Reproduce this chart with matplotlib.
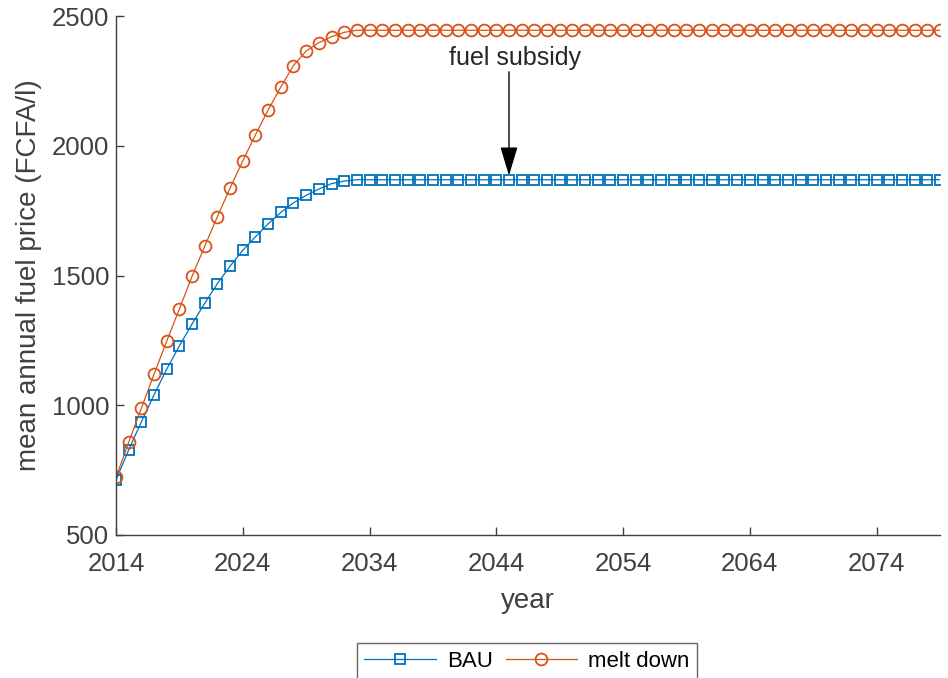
import matplotlib
matplotlib.use("Agg")
import matplotlib.pyplot as plt

plt.rcParams['font.family'] = ['Liberation Sans', 'DejaVu Sans']

years = list(range(2014, 2080))
bau = [712, 828, 936, 1040, 1139, 1229, 1313, 1393, 1469, 1536,
       1597, 1649, 1699, 1743, 1780, 1809, 1833, 1854, 1864,
       1869, 1869, 1869, 1869, 1869, 1869, 1869, 1869, 1869, 1869,
       1869, 1869, 1869, 1869, 1869, 1869, 1869, 1869, 1869, 1869,
       1869, 1869, 1869, 1869, 1869, 1869, 1869, 1869, 1869, 1869,
       1869, 1869, 1869, 1869, 1869, 1869, 1869, 1869, 1869, 1869,
       1869, 1869, 1869, 1869, 1869, 1869, 1869]
melt = [722, 857, 988, 1120, 1247, 1371, 1497, 1613, 1727, 1837,
        1942, 2042, 2138, 2226, 2309, 2365, 2397, 2420, 2437,
        2445, 2445, 2445, 2445, 2445, 2445, 2445, 2445, 2445, 2445,
        2445, 2445, 2445, 2445, 2445, 2445, 2445, 2445, 2445, 2445,
        2445, 2445, 2445, 2445, 2445, 2445, 2445, 2445, 2445, 2445,
        2445, 2445, 2445, 2445, 2445, 2445, 2445, 2445, 2445, 2445,
        2445, 2445, 2445, 2445, 2445, 2445, 2445]
xticks = [2014, 2024, 2034, 2044, 2054, 2064, 2074]
yticks = [500, 1000, 1500, 2000, 2500]
annot_text = "fuel subsidy"
annot_xy = (2045, 1885)
annot_text_pos = (2045.5, 2290)
arrow_start = (2045, 2285)

fig = plt.figure(figsize=(9.48, 6.78), dpi=100)
ax = fig.add_axes([116/948, 1-535/678, (940-116)/948, (535-16)/678])

ax.plot(years, bau, color='#0072BD', lw=0.9, marker='s', ms=6.5,
        mfc='none', mec='#0072BD', mew=1.3, label='BAU')
ax.plot(years, melt, color='#D95319', lw=0.9, marker='o', ms=8.5,
        mfc='none', mec='#D95319', mew=1.3, label='melt down')

ax.set_xlim(2014, 2079)
ax.set_ylim(500, 2500)
ax.set_xticks(xticks)
ax.set_yticks(yticks)
for s in ['top', 'right']:
    ax.spines[s].set_visible(False)
for s in ['left', 'bottom']:
    ax.spines[s].set_color('#404040')
    ax.spines[s].set_linewidth(1.0)
ax.tick_params(direction='in', length=6, width=1.0, colors='#404040',
               labelsize=18.5, labelcolor='#404040')
ax.tick_params(axis='x', pad=12)
ax.tick_params(axis='y', pad=5)
ax.set_xlabel('year', fontsize=20, color='#404040', labelpad=9)
ax.set_ylabel('mean annual fuel price (FCFA/l)', fontsize=20, color='#404040', labelpad=7)

ax.text(annot_text_pos[0], annot_text_pos[1], annot_text, ha='center', va='bottom',
        fontsize=18, color='#262626')
ax.annotate('', xy=annot_xy, xytext=arrow_start,
            arrowprops=dict(arrowstyle='-|>,head_length=1.0,head_width=0.3',
                            mutation_scale=18, color='black', lw=1.0,
                            shrinkA=0, shrinkB=0))

leg = fig.legend(loc='upper center', bbox_to_anchor=(527/948, 1-643/678),
                 ncol=2, frameon=True, fancybox=False, fontsize=16,
                 edgecolor='#404040', handlelength=3.2, columnspacing=0.6,
                 handletextpad=0.5, borderpad=0.35, borderaxespad=0)
leg.get_frame().set_linewidth(1.0)

fig.savefig('out.png', dpi=100)
